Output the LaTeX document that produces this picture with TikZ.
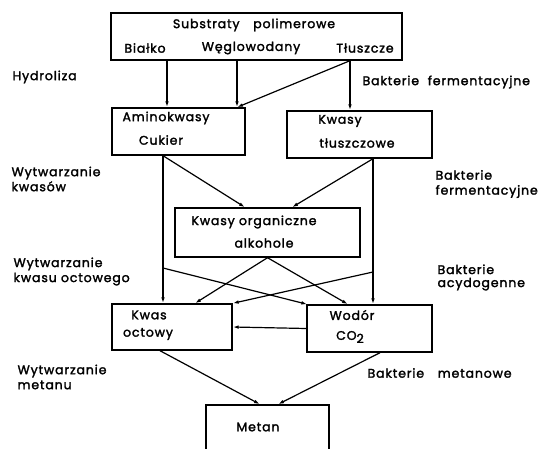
\documentclass[tikz,border=0pt]{standalone}
\usepackage{fontspec}
\setmainfont{Poppins}[LetterSpace=7, FakeBold=2]
\usetikzlibrary{arrows.meta}
\begin{document}
\begin{tikzpicture}[x=1pt,y=-1pt,
  line width=1.2pt,
  box/.style={draw, line width=1.4pt, rectangle, inner sep=0pt},
  txt/.style={inner sep=0pt, font=\fontsize{12.5}{14}\selectfont},
  lbl/.style={txt, anchor=west, align=left},
  flow/.style={-{Latex[length=6pt,width=3.6pt]}}]
\useasboundingbox (0,0) rectangle (538,449);

% boxes
\node[box, minimum width=291pt, minimum height=47pt] (sub) at (256.5,36.5) {};
\node[box, minimum width=133pt, minimum height=47pt] (amino) at (178.5,131.5) {};
\node[box, minimum width=145pt, minimum height=47pt] (tl) at (359.5,134.5) {};
\node[box, minimum width=185pt, minimum height=49pt] (org) at (267.5,232.5) {};
\node[box, minimum width=120pt, minimum height=46pt] (oct) at (172,327) {};
\node[box, minimum width=125pt, minimum height=47pt] (wod) at (369.5,328.5) {};
\node[box, minimum width=123pt, minimum height=47pt] (met) at (267.5,428.5) {};

% box texts
\node[txt] (t1) at (254,25) {Substraty\hspace{1.1em}polimerowe};
\node[txt] (t2) at (145,48) {Białko};
\node[txt] (t3) at (251,48) {Węglowodany};
\node[txt] (t4) at (365,48) {Tłuszcze};
\node[txt] (t5) at (166,118) {Aminokwasy};
\node[txt] (t6) at (161,140) {Cukier};
\node[txt] (t7) at (340,121) {Kwasy};
\node[txt] (t8) at (357,143) {tłuszczowe};
\node[txt] (t9) at (254,222) {Kwasy organiczne};
\node[txt] (t10) at (264,243) {alkohole};
\node[txt] (t11) at (149,315) {Kwas};
\node[txt] (t12) at (148,334) {octowy};
\node[txt] (t13) at (352,315) {Wodór};
\node[txt] (t14) at (350,337) {CO\raisebox{-0.45ex}{2}};
\node[txt] (t15) at (258,427) {Metan};

% side labels
\node[lbl] (l1) at (12,77) {Hydroliza};
\node[lbl] (l2) at (11,179) {Wytwarzanie\\[1pt]kwasów};
\node[lbl] (l3) at (13,271.5) {Wytwarzanie\\[1pt]kwasu octowego};
\node[lbl] (l4) at (17,377) {Wytwarzanie\\[1pt]metanu};
\node[lbl] (r1) at (362,82) {Bakterie\hspace{0.7em}fermentacyjne};
\node[lbl] (r2) at (435,184) {Bakterie\\[1pt]fermentacyjne};
\node[lbl] (r3) at (437,277.5) {Bakterie\\[-1pt]acydogenne};
\node[lbl] (r4) at (367,373) {Bakterie\hspace{1.1em}metanowe};

% hydrolysis
\draw[flow] ([xshift=-89.5pt]sub.south) -- ([xshift=-11.5pt]amino.north);
\draw[flow] ([xshift=-19.5pt]sub.south) -- ([xshift=58.5pt]amino.north);
\draw[flow] ([xshift=93.5pt]sub.south) -- ([xshift=58.5pt]amino.north);
\draw[flow] ([xshift=93.5pt]sub.south) -- ([xshift=-9.5pt]tl.north);

% acid formation
\draw[flow] ([xshift=-15.5pt]amino.south) -- ([xshift=-9pt]oct.north);
\draw[flow] ([xshift=-15.5pt]amino.south) -- ([xshift=-22.5pt]org.north);
\draw[flow] ([xshift=13.5pt]tl.south) -- ([xshift=3.5pt]wod.north);
\draw[flow] ([xshift=13.5pt]tl.south) -- ([xshift=24.5pt]org.north);

% acetic acid formation
\coordinate (cl) at (163,268);
\coordinate (cr) at (373,272);
\draw[flow] (org.south) -- ([xshift=23pt]oct.north);
\draw[flow] (org.south) -- ([xshift=-21.5pt]wod.north);
\draw[flow] (cl) -- ([xshift=1pt]wod.north west);
\draw[flow] (cr) -- (oct.north east);
\draw[flow] (wod.west) -- (oct.east);

% methane formation
\draw[flow] ([xshift=-12pt]oct.south) -- ([xshift=-7.5pt]met.north);
\draw[flow] ([xshift=10.5pt]wod.south) -- ([xshift=10.5pt]met.north);
\end{tikzpicture}
\end{document}
